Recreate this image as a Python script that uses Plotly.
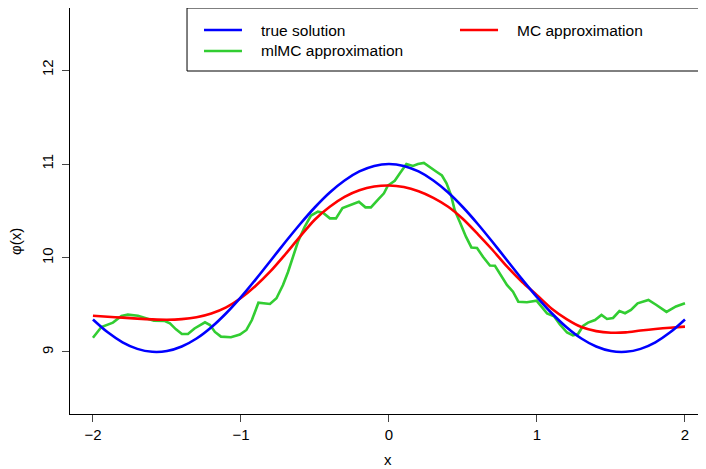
import plotly.graph_objects as go

# ---------------- data ----------------
x_smooth = [-2.0, -1.9, -1.8, -1.7, -1.6, -1.5, -1.4, -1.3, -1.2, -1.1, -1.0,
            -0.9, -0.8, -0.7, -0.6, -0.5, -0.4, -0.3, -0.2, -0.1, 0.0,
            0.1, 0.2, 0.3, 0.4, 0.5, 0.6, 0.7, 0.8, 0.9, 1.0,
            1.1, 1.2, 1.3, 1.4, 1.5, 1.6, 1.7, 1.8, 1.9, 2.0]

true_solution = [9.346, 9.209, 9.103, 9.033, 9.002, 9.010, 9.058, 9.143, 9.263, 9.412, 9.584,
                 9.773, 9.971, 10.170, 10.362, 10.540, 10.697, 10.825, 10.921, 10.980, 11.000,
                 10.980, 10.921, 10.825, 10.697, 10.540, 10.362, 10.170, 9.971, 9.773, 9.584,
                 9.412, 9.263, 9.143, 9.058, 9.010, 9.002, 9.033, 9.103, 9.209, 9.346]

mc_approx = [9.386, 9.375, 9.365, 9.355, 9.347, 9.343, 9.350, 9.370, 9.410, 9.475, 9.575,
             9.705, 9.860, 10.040, 10.230, 10.410, 10.545, 10.650, 10.720, 10.760, 10.772,
             10.755, 10.710, 10.640, 10.545, 10.415, 10.255, 10.085, 9.905, 9.745, 9.605,
             9.460, 9.350, 9.265, 9.222, 9.205, 9.208, 9.228, 9.245, 9.258, 9.270]

x_mlmc = [-2.000, -1.943, -1.865, -1.807, -1.764, -1.696, -1.642, -1.588, -1.514, -1.480,
          -1.439, -1.399, -1.358, -1.314, -1.243, -1.209, -1.176, -1.135, -1.068, -1.007,
          -0.963, -0.926, -0.882, -0.841, -0.804, -0.760, -0.716, -0.682, -0.649, -0.615,
          -0.570, -0.527, -0.480, -0.446, -0.399, -0.358, -0.314, -0.257, -0.203, -0.159,
          -0.122, -0.074, -0.034, -0.007, 0.039, 0.074, 0.118, 0.162, 0.196, 0.236,
          0.284, 0.321, 0.358, 0.389, 0.419, 0.444, 0.478, 0.520, 0.557, 0.595,
          0.635, 0.682, 0.716, 0.764, 0.797, 0.818, 0.838, 0.874, 0.932, 0.997,
          1.034, 1.068, 1.115, 1.155, 1.203, 1.243, 1.277, 1.311, 1.345, 1.392,
          1.436, 1.473, 1.514, 1.557, 1.595, 1.635, 1.680, 1.753, 1.807, 1.875,
          1.939, 2.000]

mlmc_approx = [9.152, 9.266, 9.312, 9.383, 9.397, 9.386, 9.359, 9.333, 9.330, 9.305,
               9.241, 9.191, 9.191, 9.250, 9.316, 9.287, 9.213, 9.163, 9.156, 9.186,
               9.234, 9.340, 9.524, 9.518, 9.511, 9.571, 9.713, 9.851, 10.000, 10.173,
               10.330, 10.452, 10.493, 10.482, 10.422, 10.422, 10.532, 10.564, 10.599, 10.539,
               10.539, 10.622, 10.688, 10.771, 10.822, 10.901, 11.000, 10.979, 11.000, 11.011,
               10.954, 10.918, 10.878, 10.795, 10.670, 10.511, 10.386, 10.227, 10.112, 10.106,
               10.014, 9.920, 9.918, 9.793, 9.713, 9.676, 9.641, 9.535, 9.529, 9.546,
               9.473, 9.410, 9.380, 9.293, 9.207, 9.176, 9.191, 9.277, 9.312, 9.340,
               9.394, 9.351, 9.362, 9.436, 9.412, 9.447, 9.518, 9.553, 9.500, 9.426,
               9.484, 9.518]

x_ticks = [-2, -1, 0, 1, 2]
y_ticks = [9, 10, 11, 12]
x_tick_labels = ["\u22122", "\u22121", "0", "1", "2"]
y_tick_labels = ["9", "10", "11", "12"]

legend_labels = ["true solution", "mlMC approximation", "MC approximation"]
BLUE, GREEN, RED = "#0000FF", "#32CD32", "#FF0000"
FONT = "Liberation Sans, Arial, Helvetica, sans-serif"

fig = go.Figure()
fig.add_trace(go.Scatter(x=x_mlmc, y=mlmc_approx, mode="lines",
                         line=dict(color=GREEN, width=2.6), showlegend=False))
fig.add_trace(go.Scatter(x=x_smooth, y=mc_approx, mode="lines",
                         line=dict(color=RED, width=2.6, shape="spline", smoothing=0.8),
                         showlegend=False))
fig.add_trace(go.Scatter(x=x_smooth, y=true_solution, mode="lines",
                         line=dict(color=BLUE, width=2.6, shape="spline", smoothing=0.8),
                         showlegend=False))

# page body has an 8px margin, so the figure is 698x461 placed at (8, 8)
fig.update_layout(
    width=698, height=461,
    margin=dict(l=62, r=0, t=0, b=55),
    paper_bgcolor="white", plot_bgcolor="white",
    font=dict(family=FONT, size=15, color="black"),
    xaxis=dict(range=[-2.155, 2.142], tickvals=x_ticks, ticktext=x_tick_labels,
               ticks="outside", ticklen=7, tickcolor="#444", showgrid=False,
               zeroline=False, showline=True, linecolor="black", linewidth=1,
               mirror=True, tickfont=dict(size=15)),
    yaxis=dict(range=[8.34, 12.66], tickvals=y_ticks, ticktext=y_tick_labels,
               tickangle=-90, ticks="outside", ticklen=7, tickcolor="#444",
               ticklabelstandoff=3,
               showgrid=False, zeroline=False, showline=True, linecolor="black",
               linewidth=1, mirror=False, tickfont=dict(size=15)),
)

# axis titles
fig.add_annotation(text="x", xref="paper", yref="paper", x=0.4996, y=0,
                   xanchor="center", yanchor="middle",
                   yshift=-45, showarrow=False, font=dict(size=15))
fig.add_annotation(text="\u03c6(x)", xref="paper", yref="paper", x=0, y=0.4236,
                   xanchor="center", yanchor="middle",
                   xshift=-55, textangle=-90, showarrow=False, font=dict(size=15))

# legend box (drawn manually, R style)
fig.add_shape(type="rect", xref="paper", yref="paper", x0=0.184, x1=1.01,
              y0=0.8448, y1=1.0, line=dict(color="black", width=1),
              fillcolor="white", layer="above")
leg = [(0.2107, 0.2704, 0.9458, BLUE, legend_labels[0], 0.2972),
       (0.2107, 0.2704, 0.8941, GREEN, legend_labels[1], 0.2972),
       (0.6132, 0.6730, 0.9458, RED, legend_labels[2], 0.6997)]
for x0, x1, yy, col, lab, tx in leg:
    fig.add_shape(type="line", xref="paper", yref="paper", x0=x0, x1=x1, y0=yy, y1=yy,
                  line=dict(color=col, width=2.6), layer="above")
    fig.add_annotation(text=lab, xref="paper", yref="paper", x=tx, y=yy,
                       xanchor="left", yanchor="middle", showarrow=False,
                       font=dict(size=15.5))

fig.write_html("out.html")
